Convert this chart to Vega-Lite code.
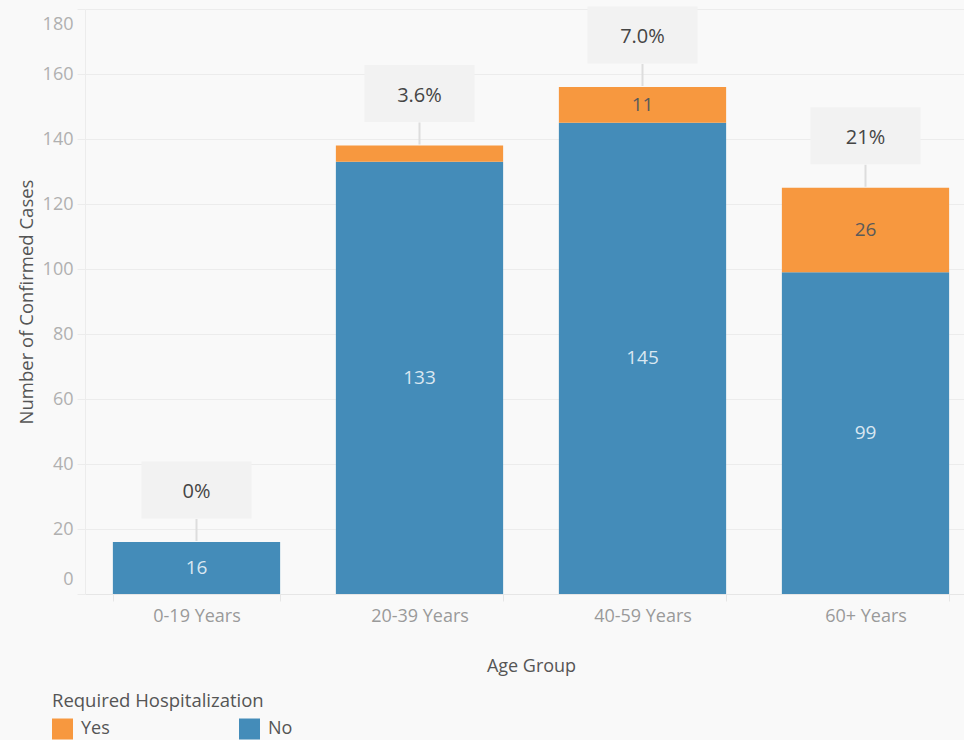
{
  "$schema": "https://vega.github.io/schema/vega-lite/v6.json",
  "autosize": "none",
  "width": 879,
  "height": 585,
  "padding": {"left": 85, "top": 9, "right": 0, "bottom": 146},
  "background": "#f9f9f9",
  "config": {
    "view": {"stroke": null},
    "font": "Open Sans",
    "axis": {"labelFont": "Open Sans", "titleFont": "Open Sans", "titleFontWeight": "normal"},
    "legend": {"labelFont": "Open Sans", "titleFont": "Open Sans", "titleFontWeight": "normal"}
  },
  "datasets": {
    "cases": [
      {"age": "0-19 Years", "hosp": "No", "count": 16},
      {"age": "0-19 Years", "hosp": "Yes", "count": 0},
      {"age": "20-39 Years", "hosp": "No", "count": 133},
      {"age": "20-39 Years", "hosp": "Yes", "count": 5},
      {"age": "40-59 Years", "hosp": "No", "count": 145},
      {"age": "40-59 Years", "hosp": "Yes", "count": 11},
      {"age": "60+ Years", "hosp": "No", "count": 99},
      {"age": "60+ Years", "hosp": "Yes", "count": 26}
    ],
    "callouts": [
      {"age": "0-19 Years", "total": 16, "pct": "0%"},
      {"age": "20-39 Years", "total": 138, "pct": "3.6%"},
      {"age": "40-59 Years", "total": 156, "pct": "7.0%"},
      {"age": "60+ Years", "total": 125, "pct": "21%"}
    ]
  },
  "layer": [
    {
      "data": {"name": "cases"},
      "mark": {"type": "bar", "stroke": null},
      "encoding": {
        "x": {
          "field": "age", "type": "nominal", "title": "Age Group",
          "scale": {"range": [0, 892], "paddingInner": 0.25, "paddingOuter": 0.125},
          "axis": {
            "labelAngle": 0, "labelFontSize": 18, "labelColor": "#9a9a9a", "labelPadding": 6,
            "tickBand": "extent", "tickColor": "#e6e6e6", "tickSize": 7,
            "domainColor": "#e6e6e6", "titleFontSize": 18, "titleColor": "#555555",
            "titlePadding": 32, "grid": false
          }
        },
        "y": {
          "aggregate": "sum", "field": "count", "type": "quantitative",
          "title": "Number of Confirmed Cases",
          "scale": {"domain": [0, 180], "nice": false},
          "axis": {
            "values": [0, 20, 40, 60, 80, 100, 120, 140, 160, 180],
            "labelFontSize": 18, "labelColor": "#b0b0b0", "labelPadding": 4,
            "labelFlush": true, "labelFlushOffset": -6,
            "tickColor": "#ececec", "tickSize": 8,
            "domainColor": "#ececec", "gridColor": "#ececec",
            "titleFontSize": 18.5, "titleColor": "#555555", "titlePadding": 6
          }
        },
        "color": {
          "field": "hosp", "type": "nominal", "title": "Required Hospitalization",
          "scale": {"domain": ["Yes", "No"], "range": ["#f7983f", "#448cb9"]},
          "legend": {
            "orient": "none", "legendX": -33, "legendY": 683,
            "direction": "horizontal", "columns": 2, "columnPadding": 129,
            "symbolType": "square", "symbolSize": 441, "symbolStrokeWidth": 0,
            "symbolOpacity": 1, "labelFontSize": 18, "labelColor": "#555555",
            "titleFontSize": 18.5, "titleColor": "#555555", "titlePadding": 8,
            "titleLimit": 500, "labelOffset": 8
          }
        },
        "order": {"field": "hosp", "sort": "ascending"}
      }
    },
    {
      "data": {"name": "cases"},
      "transform": [
        {"stack": "count", "groupby": ["age"], "sort": [{"field": "hosp", "order": "ascending"}], "as": ["y0", "y1"]},
        {"fold": ["y0", "y1"], "as": ["edge", "yv"]},
        {"aggregate": [{"op": "mean", "field": "yv", "as": "ymid"}], "groupby": ["age", "hosp", "count"]},
        {"filter": "datum.count > 5"}
      ],
      "mark": {"type": "text", "fontSize": 19, "baseline": "middle", "align": "center"},
      "encoding": {
        "x": {"field": "age", "type": "nominal"},
        "y": {"field": "ymid", "type": "quantitative"},
        "text": {"field": "count", "type": "quantitative"},
        "color": {
          "condition": {"test": "datum.hosp === 'No'", "value": "#d9e7f1"},
          "value": "#5a5a5a"
        }
      }
    },
    {
      "data": {"name": "callouts"},
      "mark": {"type": "rule", "color": "#dddddd", "strokeWidth": 2, "yOffset": -23, "y2Offset": -1},
      "encoding": {
        "x": {"field": "age", "type": "nominal"},
        "y": {"field": "total", "type": "quantitative"},
        "y2": {"field": "total"}
      }
    },
    {
      "data": {"name": "callouts"},
      "mark": {"type": "point", "shape": "M-1,-0.52H1V0.52H-1Z", "size": 12100, "filled": true, "color": "#f2f2f2", "opacity": 1, "strokeWidth": 0, "yOffset": -52},
      "encoding": {
        "x": {"field": "age", "type": "nominal"},
        "y": {"field": "total", "type": "quantitative"}
      }
    },
    {
      "data": {"name": "callouts"},
      "mark": {"type": "text", "fontSize": 20, "color": "#454545", "baseline": "middle", "align": "center", "yOffset": -50},
      "encoding": {
        "x": {"field": "age", "type": "nominal"},
        "y": {"field": "total", "type": "quantitative"},
        "text": {"field": "pct"}
      }
    }
  ]
}
